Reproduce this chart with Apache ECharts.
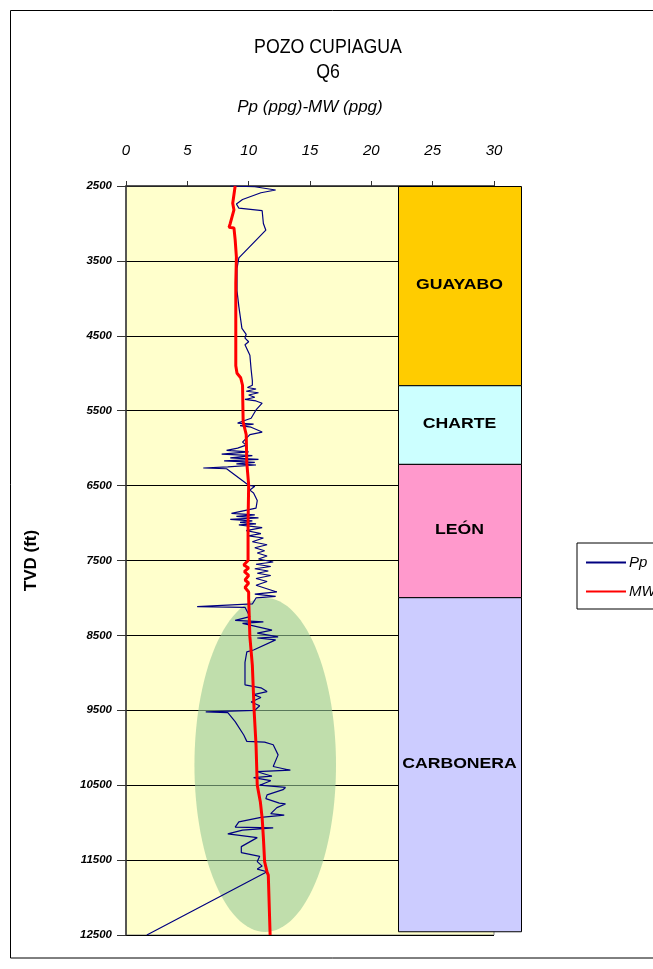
<!DOCTYPE html>
<html><head><meta charset="utf-8">
<script src="https://cdn.jsdelivr.net/npm/echarts@6/dist/echarts.min.js"></script>
<style>html,body{margin:0;padding:0;background:#fff}#c{width:653px;height:969px}</style>
</head><body><div id="c"></div>
<script>
const titleLines = ['POZO CUPIAGUA', 'Q6'];
const xAxisName = 'Pp (ppg)-MW (ppg)';
const yAxisName = 'TVD (ft)';
const xTicks = [0, 5, 10, 15, 20, 25, 30];
const yTicks = [2500, 3500, 4500, 5500, 6500, 7500, 8500, 9500, 10500, 11500, 12500];

// Pore pressure [ppg, TVD ft]
const ppData = [
 [8.5,2500],[10.5,2510],[12.2,2553],[11.0,2590],[9.5,2680],[9.0,2740],[9.2,2795],[11.1,2830],[11.2,3000],[11.4,3090],
 [9.2,3460],[9.05,3600],[9.05,3900],[9.2,4110],[9.45,4400],[9.8,4480],[9.7,4530],[10.0,4580],[9.7,4620],[10.1,4760],
 [10.2,4950],[10.3,5100],[10.3,5160],[9.9,5190],[10.6,5210],[9.8,5240],[10.8,5260],[10.0,5290],[10.5,5320],[9.7,5350],
 [10.6,5370],[11.1,5400],[10.6,5490],[10.2,5600],[9.1,5665],[10.4,5680],[9.3,5700],[10.2,5720],[11.1,5785],[10.1,5820],
 [9.5,5920],[9.8,5960],[9.1,6000],[8.2,6030],[10.0,6050],[7.8,6080],[10.3,6100],[8.5,6130],[10.8,6150],[8.0,6170],
 [10.5,6190],[9.0,6210],[10.6,6225],[8.3,6250],[6.3,6265],[8.2,6275],[10.0,6495],[10.5,6510],[10.1,6560],[10.4,6600],
 [10.7,6700],[10.6,6800],[8.6,6870],[10.5,6890],[9.0,6910],[10.8,6930],[8.5,6950],[10.3,6970],[9.3,6990],[10.6,7010],
 [9.2,7025],[11.1,7060],[9.8,7100],[11.0,7140],[10.0,7170],[11.2,7200],[10.3,7250],[11.5,7290],[10.5,7330],[11.3,7370],
 [10.7,7400],[11.5,7440],[10.8,7480],[12.0,7520],[10.6,7550],[11.8,7580],[10.5,7610],[11.6,7640],[10.7,7670],[11.8,7700],
 [10.6,7740],[11.5,7780],[10.6,7830],[12.3,7920],[10.5,7950],[12.2,7980],[10.6,8000],[10.3,8080],[5.8,8115],[9.7,8125],
 [10.1,8250],[8.9,8300],[11.2,8320],[9.5,8340],[10.3,8370],[11.9,8430],[10.7,8470],[12.4,8520],[10.7,8535],[12.2,8560],
 [10.4,8695],[9.85,8720],[9.7,8860],[9.7,9160],[11.0,9200],[11.5,9250],[10.4,9290],[11.0,9330],[10.2,9390],[10.9,9440],
 [10.5,9500],[6.5,9520],[8.3,9530],[8.9,9652],[9.6,9830],[9.85,9915],[11.3,9925],[12.0,9960],[12.4,10095],[12.0,10250],
 [13.4,10300],[10.7,10320],[11.9,10380],[10.4,10400],[11.8,10440],[10.9,10500],[13.0,10530],[12.8,10560],[11.5,10630],[11.4,10680],
 [12.5,10740],[13.0,10750],[12.3,10800],[11.8,10880],[12.9,10900],[11.0,10930],[9.2,10990],[8.9,11060],[12.0,11070],[9.5,11100],
 [8.3,11150],[10.7,11200],[9.4,11320],[9.4,11400],[10.9,11450],[10.7,11520],[11.1,11580],[10.7,11620],[11.5,11655],[1.7,12500]
];

// Mud weight [ppg, TVD ft]
const mwData = [
 [8.9,2500],[8.7,2730],[8.8,2820],[8.5,3000],[8.4,3050],[8.8,3060],[8.9,3220],[9.0,3450],[8.95,3800],[8.95,4900],
 [9.05,5000],[9.35,5060],[9.5,5160],[9.55,5650],[9.8,5820],[9.85,6200],[10.0,6490],[9.95,7000],[9.95,7500],[9.6,7560],
 [10.0,7600],[9.65,7650],[10.0,7700],[9.7,7760],[10.0,7800],[9.7,7860],[10.0,7920],[10.0,8000],[10.1,8520],[10.3,8900],
 [10.45,9520],[10.6,9960],[10.7,10500],[10.95,10720],[11.1,10940],[11.2,11200],[11.3,11520],[11.5,11660],[11.6,11700],[11.75,12500]
];

// Formations: name, top, bottom, color
const formNames = ['GUAYABO', 'CHARTE', 'LEÓN', 'CARBONERA'];
const formTops = [2500, 5160, 6210, 7990];
const formBottoms = [5160, 6210, 7990, 12450];
const formColors = ['#ffcc00', '#ccffff', '#ff99cc', '#ccccff'];

// Highlight ellipse: center x, center depth, half-width (ppg), half-height (ft)
const ellipse = [[11.35, 10230, 5.77, 2230]];

const FONT = '"Liberation Sans", Arial, sans-serif';
const chart = echarts.init(document.getElementById('c'), null, {renderer: 'canvas'});

chart.setOption({
  animation: false,
  backgroundColor: '#fff',
  legend: {
    left: 577, top: 543, orient: 'vertical',
    data: ['Pp', 'MW'],
    borderColor: '#000', borderWidth: 1, borderRadius: 0,
    padding: [12, 10, 10, 8], itemGap: 14, itemWidth: 40, itemHeight: 14,
    itemStyle: {opacity: 0},
    textStyle: {fontFamily: FONT, fontSize: 15, fontStyle: 'italic', color: '#000', padding: [0, 0, 0, -2]}
  },
  graphic: [{
    type: 'rect', z: 100, silent: true,
    shape: {x: 10.5, y: 10.5, width: 700, height: 947.5},
    style: {fill: 'none', stroke: '#000', lineWidth: 1}
  }, {
    type: 'text', x: 328, y: 47, scaleX: 0.845, silent: true,
    style: {text: titleLines[0], x: 0, y: 0, textAlign: 'center', textVerticalAlign: 'middle', fill: '#000', font: '21px ' + FONT}
  }, {
    type: 'text', x: 328, y: 72, scaleX: 0.845, silent: true,
    style: {text: titleLines[1], x: 0, y: 0, textAlign: 'center', textVerticalAlign: 'middle', fill: '#000', font: '21px ' + FONT}
  }],
  grid: [
    {left: 126, top: 186, width: 368, height: 749, show: true, backgroundColor: '#ffffcc', borderColor: '#888', borderWidth: 1},
    {left: 398, top: 186, width: 123, height: 749, show: false}
  ],
  xAxis: [{
    gridIndex: 0, type: 'value', position: 'top', min: 0, max: 30, interval: 5,
    name: xAxisName, nameLocation: 'middle', nameGap: 70,
    nameTextStyle: {fontFamily: FONT, fontSize: 17, fontStyle: 'italic', color: '#000'},
    axisLine: {show: true, lineStyle: {color: '#333', width: 1.5}},
    axisTick: {show: true, inside: false, length: 5, lineStyle: {color: '#333'}},
    axisLabel: {margin: 28, fontFamily: FONT, fontSize: 15, fontStyle: 'italic', color: '#000',
      formatter: v => xTicks.includes(v) ? String(v) : ''},
    splitLine: {show: false}
  }, {
    gridIndex: 1, type: 'value', min: 0, max: 1, show: false
  }],
  yAxis: [{
    gridIndex: 0, type: 'value', inverse: true, min: 2500, max: 12500, interval: 1000,
    name: yAxisName, nameLocation: 'middle', nameGap: 86,
    nameTextStyle: {fontFamily: FONT, fontSize: 17, fontWeight: 'bold', color: '#000'},
    axisLine: {show: true, lineStyle: {color: '#333', width: 1.5}},
    axisTick: {show: true, inside: false, length: 9, lineStyle: {color: '#333'}},
    axisLabel: {margin: 14, fontFamily: FONT, fontSize: 11.5, fontStyle: 'italic', fontWeight: 'bold', color: '#000',
      formatter: v => yTicks.includes(v) ? String(v) : ''},
    splitLine: {show: true, lineStyle: {color: '#000', width: 1}}
  }, {
    gridIndex: 1, type: 'value', inverse: true, min: 2500, max: 12500, show: false
  }],
  series: [
    {
      type: 'custom', xAxisIndex: 0, yAxisIndex: 0, silent: true, z: 1,
      data: ellipse,
      renderItem: function (params, api) {
        const cx = api.value(0), cy = api.value(1), a = api.value(2), b = api.value(3);
        const pts = [];
        for (let i = 0; i < 120; i++) {
          const t = i / 120 * Math.PI * 2;
          pts.push(api.coord([cx + a * Math.cos(t), cy + b * Math.sin(t)]));
        }
        return {type: 'polygon', shape: {points: pts}, style: {fill: 'rgba(150,200,150,0.6)', stroke: 'none'}};
      }
    },
    {
      name: 'Pp', type: 'line', xAxisIndex: 0, yAxisIndex: 0, data: ppData, z: 3,
      showSymbol: false, symbol: 'none', lineStyle: {color: '#000080', width: 1.2}, itemStyle: {color: '#000080'}
    },
    {
      name: 'MW', type: 'line', xAxisIndex: 0, yAxisIndex: 0, data: mwData, z: 4,
      showSymbol: false, symbol: 'none', lineStyle: {color: '#ff0000', width: 3}, itemStyle: {color: '#ff0000'}
    },
    {
      type: 'custom', xAxisIndex: 1, yAxisIndex: 1, silent: true, z: 5,
      data: formNames.map((n, i) => [formTops[i], formBottoms[i], i]),
      renderItem: function (params, api) {
        const i = api.value(2);
        const p0 = api.coord([0, api.value(0)]);
        const p1 = api.coord([1, api.value(1)]);
        return {
          type: 'group', children: [
            {type: 'rect', shape: {x: p0[0] + 0.5, y: p0[1] + 0.5, width: p1[0] - p0[0], height: p1[1] - p0[1]},
             style: {fill: formColors[i], stroke: '#000', lineWidth: 1}},
            {type: 'text', x: (p0[0] + p1[0]) / 2, y: (p0[1] + p1[1]) / 2, scaleX: 1.26,
             style: {text: formNames[i], x: 0, y: 0,
             textAlign: 'center', textVerticalAlign: 'middle', fill: '#000',
             font: 'bold 14px ' + FONT}}
          ]
        };
      }
    }
  ]
});
</script></body></html>
